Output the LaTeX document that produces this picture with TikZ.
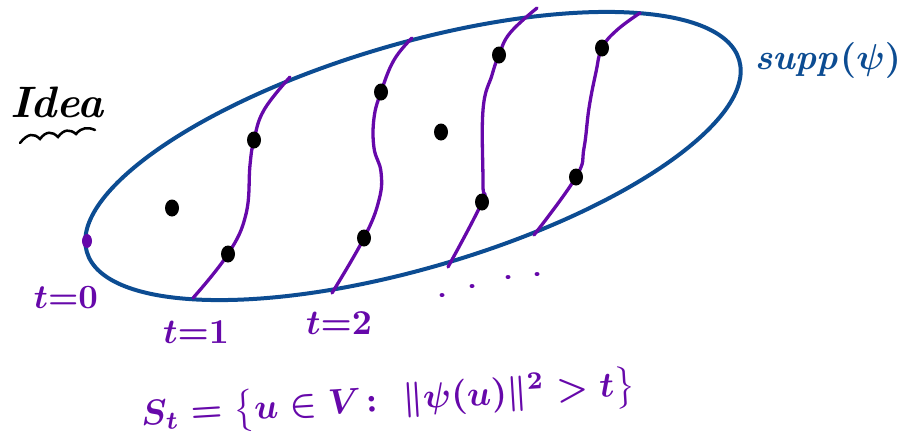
\documentclass[tikz,border=0pt]{standalone}
\usepackage{graphicx}
\usepackage{amsmath}
\definecolor{ellblue}{RGB}{12,76,146}
\definecolor{strip}{RGB}{102,8,170}
\tikzset{
  ell/.style={draw=ellblue, line width=4pt},
  stripline/.style={draw=strip, line width=3.3pt, line cap=round, line join=round},
  vtx/.style={fill=black},
  lbl/.style={text=strip, inner sep=0pt},
}
\newcommand{\bigtext}[2]{\scalebox{#1}{\mathversion{bold}#2}}
\begin{document}
\begin{tikzpicture}[x=1pt,y=1pt]
\useasboundingbox (0,0) rectangle (907,-442);
% support ellipse
\draw[ell] (413,-156) ellipse [x radius=340pt, y radius=112pt, rotate=16.4];
% level curves
\draw[stripline] plot[smooth, tension=0.7] coordinates {(193,-298) (228,-254) (246,-214) (250,-165) (254,-140) (264,-110) (290,-77)};
\draw[stripline] plot[smooth, tension=0.7] coordinates {(332,-293) (364,-238) (379,-200) (381,-172) (374,-148) (374,-118) (381,-92) (394,-60) (412,-38)};
\draw[stripline] plot[smooth, tension=0.7] coordinates {(448,-267) (482,-202) (483,-185) (483,-110) (492,-75) (499,-55) (510,-33) (537,-8)};
\draw[stripline] plot[smooth, tension=0.7] coordinates {(534,-235) (576,-177) (584,-148) (589,-108) (596,-72) (602,-48) (617,-30) (640,-13)};
% vertices
\foreach \p in {(172,-208),(228,-254),(254,-140),(364,-238),(381,-92),(441,-132),(482,-202),(499,-55),(576,-177),(602,-48)}
  \fill[vtx] \p ellipse [x radius=7pt, y radius=8.5pt];
\fill[strip] (87,-241) ellipse [x radius=5pt, y radius=7pt];
% dots
\foreach \p in {(442,-295),(472,-286),(508,-277),(537,-274)}
  \fill[strip] \p ellipse [x radius=2.5pt, y radius=2pt];
% labels
\node[lbl] (t0) at (66,-298) {\bigtext{3.4}{$t{=}0$}};
\node[lbl] (t1) at (196,-332) {\bigtext{3.5}{$t{=}1$}};
\node[lbl] (t2) at (339,-323) {\bigtext{3.5}{$t{=}2$}};
\node[text=ellblue, inner sep=0pt] (supp) at (828,-60) {\bigtext{3.6}{$\mathit{supp}(\psi)$}};
\node[inner sep=0pt] (idea) at (57,-102) {\scalebox{4.4}{\bfseries\itshape Idea}};
\draw[line width=2.5pt, line cap=round] (20,-143) .. controls (28,-133) and (34,-133) .. (40,-139) .. controls (46,-131) and (52,-131) .. (58,-137) .. controls (64,-129) and (70,-129) .. (76,-134) .. controls (82,-127) and (88,-127) .. (95,-130);
\node[lbl, rotate=3.5] (form) at (388,-402) {\bigtext{3.55}{$S_t = \bigl\{ u\in V\colon\ \|\psi(u)\|^2 > t \bigr\}$}};
\end{tikzpicture}
\end{document}
